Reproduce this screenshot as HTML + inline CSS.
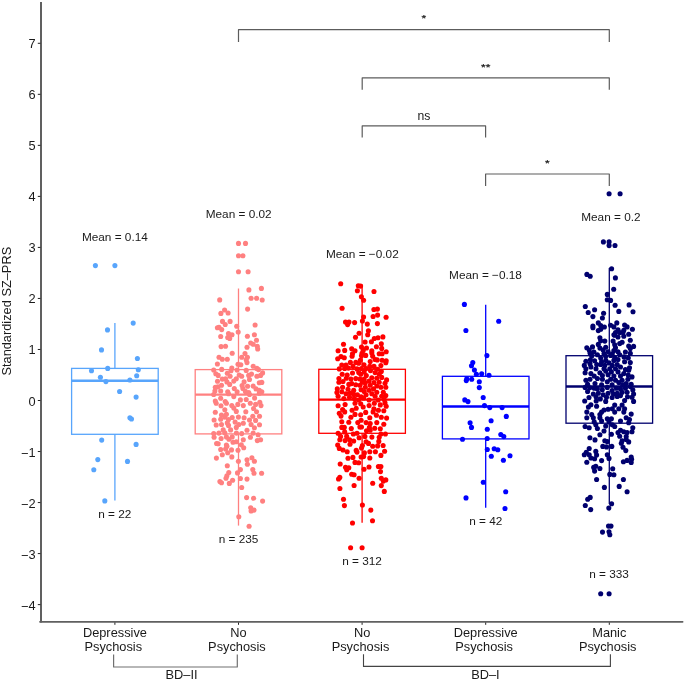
<!DOCTYPE html>
<html><head><meta charset="utf-8"><style>
html,body{margin:0;padding:0;background:#fff;width:685px;height:681px;overflow:hidden}
svg{display:block;will-change:transform}
text{font-family:"Liberation Sans", sans-serif}
</style></head><body>
<svg width="685" height="681" viewBox="0 0 685 681" font-family='"Liberation Sans", sans-serif' fill="#1a1a1a"><line x1="41" y1="2" x2="41" y2="622.6" stroke="#606060" stroke-width="2"/>
<line x1="40" y1="621.8" x2="682.6" y2="621.8" stroke="#606060" stroke-width="1.8" stroke-linecap="round"/>
<line x1="37.8" y1="604.62" x2="40.5" y2="604.62" stroke="#222" stroke-width="1"/>
<text x="35.6" y="609.62" text-anchor="end" font-size="12.8"><tspan dy="1.6">−</tspan><tspan dy="-1.6">4</tspan></text>
<line x1="37.8" y1="553.59" x2="40.5" y2="553.59" stroke="#222" stroke-width="1"/>
<text x="35.6" y="558.59" text-anchor="end" font-size="12.8"><tspan dy="1.6">−</tspan><tspan dy="-1.6">3</tspan></text>
<line x1="37.8" y1="502.56" x2="40.5" y2="502.56" stroke="#222" stroke-width="1"/>
<text x="35.6" y="507.56" text-anchor="end" font-size="12.8"><tspan dy="1.6">−</tspan><tspan dy="-1.6">2</tspan></text>
<line x1="37.8" y1="451.53" x2="40.5" y2="451.53" stroke="#222" stroke-width="1"/>
<text x="35.6" y="456.53" text-anchor="end" font-size="12.8"><tspan dy="1.6">−</tspan><tspan dy="-1.6">1</tspan></text>
<line x1="37.8" y1="400.50" x2="40.5" y2="400.50" stroke="#222" stroke-width="1"/>
<text x="35.6" y="405.50" text-anchor="end" font-size="12.8">0</text>
<line x1="37.8" y1="349.47" x2="40.5" y2="349.47" stroke="#222" stroke-width="1"/>
<text x="35.6" y="354.47" text-anchor="end" font-size="12.8">1</text>
<line x1="37.8" y1="298.44" x2="40.5" y2="298.44" stroke="#222" stroke-width="1"/>
<text x="35.6" y="303.44" text-anchor="end" font-size="12.8">2</text>
<line x1="37.8" y1="247.41" x2="40.5" y2="247.41" stroke="#222" stroke-width="1"/>
<text x="35.6" y="252.41" text-anchor="end" font-size="12.8">3</text>
<line x1="37.8" y1="196.38" x2="40.5" y2="196.38" stroke="#222" stroke-width="1"/>
<text x="35.6" y="201.38" text-anchor="end" font-size="12.8">4</text>
<line x1="37.8" y1="145.35" x2="40.5" y2="145.35" stroke="#222" stroke-width="1"/>
<text x="35.6" y="150.35" text-anchor="end" font-size="12.8">5</text>
<line x1="37.8" y1="94.32" x2="40.5" y2="94.32" stroke="#222" stroke-width="1"/>
<text x="35.6" y="99.32" text-anchor="end" font-size="12.8">6</text>
<line x1="37.8" y1="43.29" x2="40.5" y2="43.29" stroke="#222" stroke-width="1"/>
<text x="35.6" y="48.29" text-anchor="end" font-size="12.8">7</text>
<line x1="114.9" y1="622.5" x2="114.9" y2="624.8" stroke="#222" stroke-width="1"/>
<line x1="238.5" y1="622.5" x2="238.5" y2="624.8" stroke="#222" stroke-width="1"/>
<line x1="362.1" y1="622.5" x2="362.1" y2="624.8" stroke="#222" stroke-width="1"/>
<line x1="485.7" y1="622.5" x2="485.7" y2="624.8" stroke="#222" stroke-width="1"/>
<line x1="609.3" y1="622.5" x2="609.3" y2="624.8" stroke="#222" stroke-width="1"/>
<text x="114.9" y="636.6" text-anchor="middle" font-size="12.8">Depressive</text>
<text x="113.3" y="651.2" text-anchor="middle" font-size="12.8">Psychosis</text>
<text x="238.5" y="636.6" text-anchor="middle" font-size="12.8">No</text>
<text x="236.9" y="651.2" text-anchor="middle" font-size="12.8">Psychosis</text>
<text x="362.1" y="636.6" text-anchor="middle" font-size="12.8">No</text>
<text x="360.5" y="651.2" text-anchor="middle" font-size="12.8">Psychosis</text>
<text x="485.7" y="636.6" text-anchor="middle" font-size="12.8">Depressive</text>
<text x="484.1" y="651.2" text-anchor="middle" font-size="12.8">Psychosis</text>
<text x="609.3" y="636.6" text-anchor="middle" font-size="12.8">Manic</text>
<text x="607.7" y="651.2" text-anchor="middle" font-size="12.8">Psychosis</text>
<text transform="translate(10.6,311.2) rotate(-90)" text-anchor="middle" font-size="12.8">Standardized SZ–PRS</text>
<path d="M113.6 654.6 V667 H237.3 V654.6" fill="none" stroke="#707070" stroke-width="1.2" stroke-linejoin="round"/>
<path d="M363.5 654.2 V666.4 H610.4 V654.2" fill="none" stroke="#444" stroke-width="1.1"/>
<text x="181.5" y="678.8" text-anchor="middle" font-size="12.8">BD–II</text>
<text x="485.4" y="678.8" text-anchor="middle" font-size="12.8">BD–I</text>
<path d="M238.5 42.0 V29.7 H609.3 V42.0" fill="none" stroke="#5c5c5c" stroke-width="1.2" stroke-linejoin="round"/>
<text transform="translate(423.90,15.80) scale(1,0.8)" x="0" y="6.9" text-anchor="middle" font-size="12" stroke="#1a1a1a" stroke-width="0.3">*</text>
<path d="M362.2 89.7 V77.9 H609.3 V89.7" fill="none" stroke="#5c5c5c" stroke-width="1.2" stroke-linejoin="round"/>
<text transform="translate(485.75,64.00) scale(1,0.8)" x="0" y="6.9" text-anchor="middle" font-size="12" stroke="#1a1a1a" stroke-width="0.3">**</text>
<path d="M362.2 137.6 V125.9 H485.6 V137.6" fill="none" stroke="#5c5c5c" stroke-width="1.2" stroke-linejoin="round"/>
<text x="423.9" y="120.0" text-anchor="middle" font-size="12.2">ns</text>
<path d="M485.6 185.9 V174.0 H609.3 V185.9" fill="none" stroke="#5c5c5c" stroke-width="1.2" stroke-linejoin="round"/>
<text transform="translate(547.45,160.10) scale(1,0.8)" x="0" y="6.9" text-anchor="middle" font-size="12" stroke="#1a1a1a" stroke-width="0.3">*</text>
<g stroke="#58a5fc" fill="none">
<line x1="114.9" y1="323.1" x2="114.9" y2="368.4" stroke-width="1.3"/>
<line x1="114.9" y1="434.3" x2="114.9" y2="500.6" stroke-width="1.3"/>
<rect x="71.60" y="368.4" width="86.60" height="65.90" stroke-width="1.3"/>
<line x1="71.60" y1="380.7" x2="158.20" y2="380.7" stroke-width="2.4"/>
</g>
<g fill="#58a5fc">
<circle cx="95.4" cy="265.6" r="2.55"/>
<circle cx="114.9" cy="265.6" r="2.55"/>
<circle cx="133.2" cy="323.1" r="2.55"/>
<circle cx="107.5" cy="329.9" r="2.55"/>
<circle cx="101.5" cy="349.9" r="2.55"/>
<circle cx="137.4" cy="358.5" r="2.55"/>
<circle cx="91.5" cy="370.7" r="2.55"/>
<circle cx="107.7" cy="368.4" r="2.55"/>
<circle cx="138.3" cy="369.7" r="2.55"/>
<circle cx="100.4" cy="377.3" r="2.55"/>
<circle cx="136.7" cy="375.7" r="2.55"/>
<circle cx="105.9" cy="381.6" r="2.55"/>
<circle cx="129.9" cy="380.0" r="2.55"/>
<circle cx="119.6" cy="391.5" r="2.55"/>
<circle cx="136.1" cy="397.1" r="2.55"/>
<circle cx="129.9" cy="417.7" r="2.55"/>
<circle cx="131.5" cy="419.0" r="2.55"/>
<circle cx="101.7" cy="440.1" r="2.55"/>
<circle cx="136.1" cy="444.4" r="2.55"/>
<circle cx="97.8" cy="459.6" r="2.55"/>
<circle cx="127.5" cy="461.4" r="2.55"/>
<circle cx="93.8" cy="469.7" r="2.55"/>
<circle cx="104.8" cy="500.9" r="2.55"/>
</g>
<g stroke="#ff8080" fill="none">
<line x1="238.5" y1="288.5" x2="238.5" y2="369.6" stroke-width="1.3"/>
<line x1="238.5" y1="433.9" x2="238.5" y2="525.6" stroke-width="1.3"/>
<rect x="195.20" y="369.6" width="86.60" height="64.30" stroke-width="1.3"/>
<line x1="195.20" y1="394.6" x2="281.80" y2="394.6" stroke-width="2.4"/>
</g>
<g fill="#ff8080">
<circle cx="238.5" cy="243.4" r="2.55"/>
<circle cx="245.5" cy="243.4" r="2.55"/>
<circle cx="238.5" cy="255.7" r="2.55"/>
<circle cx="242.9" cy="255.7" r="2.55"/>
<circle cx="238.5" cy="271.8" r="2.55"/>
<circle cx="248.1" cy="271.8" r="2.55"/>
<circle cx="248.9" cy="289.9" r="2.55"/>
<circle cx="261.4" cy="288.4" r="2.55"/>
<circle cx="219.7" cy="299.9" r="2.55"/>
<circle cx="251.1" cy="298.2" r="2.55"/>
<circle cx="256.6" cy="298.2" r="2.55"/>
<circle cx="262.2" cy="300.0" r="2.55"/>
<circle cx="247.6" cy="309.1" r="2.55"/>
<circle cx="224.6" cy="310.0" r="2.55"/>
<circle cx="220.9" cy="313.4" r="2.55"/>
<circle cx="228.1" cy="313.0" r="2.55"/>
<circle cx="222.5" cy="321.4" r="2.55"/>
<circle cx="230.1" cy="321.4" r="2.55"/>
<circle cx="225.2" cy="324.5" r="2.55"/>
<circle cx="255.1" cy="325.0" r="2.55"/>
<circle cx="217.4" cy="327.7" r="2.55"/>
<circle cx="219.0" cy="327.2" r="2.55"/>
<circle cx="221.7" cy="329.6" r="2.55"/>
<circle cx="236.7" cy="326.3" r="2.55"/>
<circle cx="238.2" cy="332.0" r="2.55"/>
<circle cx="228.5" cy="333.6" r="2.55"/>
<circle cx="232.0" cy="334.8" r="2.55"/>
<circle cx="227.7" cy="337.5" r="2.55"/>
<circle cx="229.7" cy="338.5" r="2.55"/>
<circle cx="220.7" cy="336.5" r="2.55"/>
<circle cx="247.4" cy="336.2" r="2.55"/>
<circle cx="254.4" cy="334.8" r="2.55"/>
<circle cx="256.5" cy="340.3" r="2.55"/>
<circle cx="250.7" cy="343.0" r="2.55"/>
<circle cx="253.2" cy="344.3" r="2.55"/>
<circle cx="221.1" cy="346.6" r="2.55"/>
<circle cx="225.5" cy="346.2" r="2.55"/>
<circle cx="247.0" cy="347.2" r="2.55"/>
<circle cx="257.3" cy="346.2" r="2.55"/>
<circle cx="257.7" cy="349.0" r="2.55"/>
<circle cx="232.2" cy="353.2" r="2.55"/>
<circle cx="245.0" cy="353.6" r="2.55"/>
<circle cx="219.0" cy="357.3" r="2.55"/>
<circle cx="222.3" cy="359.3" r="2.55"/>
<circle cx="227.3" cy="359.3" r="2.55"/>
<circle cx="241.7" cy="357.3" r="2.55"/>
<circle cx="247.4" cy="357.3" r="2.55"/>
<circle cx="246.2" cy="359.7" r="2.55"/>
<circle cx="247.0" cy="362.6" r="2.55"/>
<circle cx="217.4" cy="364.0" r="2.55"/>
<circle cx="238.0" cy="364.3" r="2.55"/>
<circle cx="240.8" cy="364.7" r="2.55"/>
<circle cx="253.2" cy="366.2" r="2.55"/>
<circle cx="231.8" cy="368.0" r="2.55"/>
<circle cx="256.9" cy="368.4" r="2.55"/>
<circle cx="213.7" cy="370.0" r="2.55"/>
<circle cx="231.0" cy="370.8" r="2.55"/>
<circle cx="246.2" cy="370.4" r="2.55"/>
<circle cx="258.5" cy="369.6" r="2.55"/>
<circle cx="227.3" cy="373.3" r="2.55"/>
<circle cx="262.6" cy="372.9" r="2.55"/>
<circle cx="215.8" cy="373.7" r="2.55"/>
<circle cx="218.2" cy="375.4" r="2.55"/>
<circle cx="230.1" cy="376.2" r="2.55"/>
<circle cx="239.2" cy="375.0" r="2.55"/>
<circle cx="241.7" cy="376.2" r="2.55"/>
<circle cx="248.7" cy="375.4" r="2.55"/>
<circle cx="251.5" cy="374.1" r="2.55"/>
<circle cx="256.9" cy="376.2" r="2.55"/>
<circle cx="260.6" cy="375.4" r="2.55"/>
<circle cx="222.3" cy="379.1" r="2.55"/>
<circle cx="225.6" cy="378.7" r="2.55"/>
<circle cx="236.3" cy="378.7" r="2.55"/>
<circle cx="233.8" cy="381.1" r="2.55"/>
<circle cx="249.5" cy="379.5" r="2.55"/>
<circle cx="226.9" cy="381.9" r="2.55"/>
<circle cx="244.1" cy="381.9" r="2.55"/>
<circle cx="259.3" cy="382.8" r="2.55"/>
<circle cx="261.8" cy="382.4" r="2.55"/>
<circle cx="221.5" cy="385.2" r="2.55"/>
<circle cx="229.7" cy="384.4" r="2.55"/>
<circle cx="242.1" cy="385.6" r="2.55"/>
<circle cx="253.2" cy="386.1" r="2.55"/>
<circle cx="215.3" cy="387.3" r="2.55"/>
<circle cx="217.8" cy="386.9" r="2.55"/>
<circle cx="234.3" cy="388.5" r="2.55"/>
<circle cx="242.9" cy="388.5" r="2.55"/>
<circle cx="256.0" cy="388.9" r="2.55"/>
<circle cx="259.3" cy="390.2" r="2.55"/>
<circle cx="220.7" cy="391.0" r="2.55"/>
<circle cx="214.9" cy="391.0" r="2.55"/>
<circle cx="227.7" cy="391.8" r="2.55"/>
<circle cx="237.1" cy="391.8" r="2.55"/>
<circle cx="245.4" cy="391.4" r="2.55"/>
<circle cx="248.7" cy="392.6" r="2.55"/>
<circle cx="261.8" cy="391.8" r="2.55"/>
<circle cx="213.7" cy="394.5" r="2.55"/>
<circle cx="228.5" cy="393.7" r="2.55"/>
<circle cx="233.8" cy="396.6" r="2.55"/>
<circle cx="249.5" cy="394.5" r="2.55"/>
<circle cx="259.3" cy="393.3" r="2.55"/>
<circle cx="215.3" cy="401.1" r="2.55"/>
<circle cx="216.2" cy="403.2" r="2.55"/>
<circle cx="220.7" cy="398.2" r="2.55"/>
<circle cx="225.2" cy="401.5" r="2.55"/>
<circle cx="226.4" cy="403.2" r="2.55"/>
<circle cx="240.4" cy="399.9" r="2.55"/>
<circle cx="250.3" cy="403.2" r="2.55"/>
<circle cx="259.8" cy="402.3" r="2.55"/>
<circle cx="261.0" cy="405.6" r="2.55"/>
<circle cx="255.6" cy="404.4" r="2.55"/>
<circle cx="243.3" cy="405.6" r="2.55"/>
<circle cx="231.8" cy="405.6" r="2.55"/>
<circle cx="233.8" cy="408.1" r="2.55"/>
<circle cx="236.3" cy="411.4" r="2.55"/>
<circle cx="253.6" cy="408.5" r="2.55"/>
<circle cx="256.5" cy="411.8" r="2.55"/>
<circle cx="224.8" cy="409.7" r="2.55"/>
<circle cx="215.3" cy="412.2" r="2.55"/>
<circle cx="245.8" cy="411.8" r="2.55"/>
<circle cx="226.4" cy="414.3" r="2.55"/>
<circle cx="221.5" cy="415.1" r="2.55"/>
<circle cx="252.8" cy="416.3" r="2.55"/>
<circle cx="238.4" cy="417.1" r="2.55"/>
<circle cx="232.2" cy="417.5" r="2.55"/>
<circle cx="224.8" cy="417.1" r="2.55"/>
<circle cx="214.1" cy="420.0" r="2.55"/>
<circle cx="220.7" cy="419.2" r="2.55"/>
<circle cx="228.5" cy="419.6" r="2.55"/>
<circle cx="249.5" cy="420.0" r="2.55"/>
<circle cx="255.6" cy="420.4" r="2.55"/>
<circle cx="235.1" cy="422.1" r="2.55"/>
<circle cx="243.3" cy="423.3" r="2.55"/>
<circle cx="238.8" cy="424.5" r="2.55"/>
<circle cx="227.3" cy="422.9" r="2.55"/>
<circle cx="216.2" cy="425.0" r="2.55"/>
<circle cx="221.5" cy="424.5" r="2.55"/>
<circle cx="228.5" cy="425.4" r="2.55"/>
<circle cx="251.1" cy="424.5" r="2.55"/>
<circle cx="236.3" cy="427.4" r="2.55"/>
<circle cx="254.4" cy="427.8" r="2.55"/>
<circle cx="223.2" cy="429.9" r="2.55"/>
<circle cx="230.6" cy="429.9" r="2.55"/>
<circle cx="247.0" cy="430.3" r="2.55"/>
<circle cx="213.7" cy="433.6" r="2.55"/>
<circle cx="224.8" cy="432.8" r="2.55"/>
<circle cx="241.7" cy="433.6" r="2.55"/>
<circle cx="258.1" cy="434.8" r="2.55"/>
<circle cx="214.1" cy="437.3" r="2.55"/>
<circle cx="221.1" cy="438.5" r="2.55"/>
<circle cx="226.4" cy="436.9" r="2.55"/>
<circle cx="232.2" cy="436.9" r="2.55"/>
<circle cx="228.9" cy="439.3" r="2.55"/>
<circle cx="243.3" cy="439.8" r="2.55"/>
<circle cx="257.3" cy="440.6" r="2.55"/>
<circle cx="260.6" cy="439.8" r="2.55"/>
<circle cx="216.6" cy="443.5" r="2.55"/>
<circle cx="233.0" cy="442.2" r="2.55"/>
<circle cx="236.3" cy="441.8" r="2.55"/>
<circle cx="226.4" cy="445.1" r="2.55"/>
<circle cx="241.3" cy="444.7" r="2.55"/>
<circle cx="218.2" cy="443.7" r="2.55"/>
<circle cx="226.9" cy="446.2" r="2.55"/>
<circle cx="243.7" cy="447.8" r="2.55"/>
<circle cx="220.7" cy="449.5" r="2.55"/>
<circle cx="225.6" cy="449.0" r="2.55"/>
<circle cx="231.5" cy="449.9" r="2.55"/>
<circle cx="238.0" cy="450.3" r="2.55"/>
<circle cx="227.7" cy="452.7" r="2.55"/>
<circle cx="222.3" cy="454.8" r="2.55"/>
<circle cx="231.8" cy="456.9" r="2.55"/>
<circle cx="216.4" cy="458.1" r="2.55"/>
<circle cx="238.4" cy="461.2" r="2.55"/>
<circle cx="247.0" cy="459.7" r="2.55"/>
<circle cx="251.9" cy="457.7" r="2.55"/>
<circle cx="254.4" cy="461.2" r="2.55"/>
<circle cx="247.4" cy="464.3" r="2.55"/>
<circle cx="227.3" cy="465.7" r="2.55"/>
<circle cx="240.4" cy="469.6" r="2.55"/>
<circle cx="252.8" cy="469.6" r="2.55"/>
<circle cx="228.8" cy="472.5" r="2.55"/>
<circle cx="237.5" cy="472.9" r="2.55"/>
<circle cx="254.0" cy="473.3" r="2.55"/>
<circle cx="261.6" cy="473.3" r="2.55"/>
<circle cx="226.9" cy="475.8" r="2.55"/>
<circle cx="226.0" cy="478.2" r="2.55"/>
<circle cx="240.4" cy="478.5" r="2.55"/>
<circle cx="247.0" cy="479.1" r="2.55"/>
<circle cx="232.6" cy="480.3" r="2.55"/>
<circle cx="219.9" cy="481.5" r="2.55"/>
<circle cx="221.5" cy="482.8" r="2.55"/>
<circle cx="229.3" cy="483.4" r="2.55"/>
<circle cx="241.7" cy="487.5" r="2.55"/>
<circle cx="246.6" cy="497.6" r="2.55"/>
<circle cx="253.6" cy="498.2" r="2.55"/>
<circle cx="262.6" cy="501.1" r="2.55"/>
<circle cx="250.7" cy="507.7" r="2.55"/>
<circle cx="251.1" cy="511.0" r="2.55"/>
<circle cx="254.0" cy="510.1" r="2.55"/>
<circle cx="238.8" cy="516.7" r="2.55"/>
<circle cx="249.1" cy="526.2" r="2.55"/>
<circle cx="250.4" cy="437.3" r="2.55"/>
<circle cx="221.7" cy="369.4" r="2.55"/>
<circle cx="254.6" cy="398.1" r="2.55"/>
<circle cx="259.5" cy="424.7" r="2.55"/>
<circle cx="244.1" cy="417.7" r="2.55"/>
<circle cx="246.2" cy="399.5" r="2.55"/>
<circle cx="221.0" cy="405.8" r="2.55"/>
<circle cx="259.5" cy="416.3" r="2.55"/>
<circle cx="247.6" cy="386.2" r="2.55"/>
<circle cx="236.4" cy="433.1" r="2.55"/>
<circle cx="237.1" cy="370.1" r="2.55"/>
<circle cx="237.8" cy="404.4" r="2.55"/>
<circle cx="217.5" cy="381.3" r="2.55"/>
<circle cx="218.9" cy="433.1" r="2.55"/>
<circle cx="253.2" cy="433.1" r="2.55"/>
</g>
<g stroke="#ff0000" fill="none">
<line x1="362.1" y1="284.4" x2="362.1" y2="369.3" stroke-width="1.3"/>
<line x1="362.1" y1="433.3" x2="362.1" y2="522.7" stroke-width="1.3"/>
<rect x="318.80" y="369.3" width="86.60" height="64.00" stroke-width="1.3"/>
<line x1="318.80" y1="399.6" x2="405.40" y2="399.6" stroke-width="2.4"/>
</g>
<g fill="#ff0000">
<circle cx="340.7" cy="283.8" r="2.55"/>
<circle cx="358.3" cy="285.8" r="2.55"/>
<circle cx="360.6" cy="286.1" r="2.55"/>
<circle cx="357.4" cy="290.7" r="2.55"/>
<circle cx="374.0" cy="291.5" r="2.55"/>
<circle cx="361.4" cy="296.7" r="2.55"/>
<circle cx="363.6" cy="300.3" r="2.55"/>
<circle cx="342.1" cy="308.2" r="2.55"/>
<circle cx="373.9" cy="309.5" r="2.55"/>
<circle cx="377.4" cy="309.1" r="2.55"/>
<circle cx="373.1" cy="316.5" r="2.55"/>
<circle cx="377.6" cy="315.1" r="2.55"/>
<circle cx="363.6" cy="317.0" r="2.55"/>
<circle cx="386.1" cy="317.3" r="2.55"/>
<circle cx="362.4" cy="321.0" r="2.55"/>
<circle cx="345.5" cy="322.0" r="2.55"/>
<circle cx="349.0" cy="322.0" r="2.55"/>
<circle cx="354.6" cy="322.6" r="2.55"/>
<circle cx="347.6" cy="324.6" r="2.55"/>
<circle cx="367.3" cy="324.1" r="2.55"/>
<circle cx="377.4" cy="323.6" r="2.55"/>
<circle cx="368.4" cy="330.7" r="2.55"/>
<circle cx="367.7" cy="334.8" r="2.55"/>
<circle cx="359.1" cy="333.2" r="2.55"/>
<circle cx="355.5" cy="337.3" r="2.55"/>
<circle cx="382.9" cy="336.9" r="2.55"/>
<circle cx="378.0" cy="337.7" r="2.55"/>
<circle cx="374.3" cy="338.5" r="2.55"/>
<circle cx="371.4" cy="341.8" r="2.55"/>
<circle cx="365.1" cy="342.0" r="2.55"/>
<circle cx="343.5" cy="344.3" r="2.55"/>
<circle cx="381.3" cy="343.8" r="2.55"/>
<circle cx="361.5" cy="347.1" r="2.55"/>
<circle cx="366.5" cy="348.0" r="2.55"/>
<circle cx="376.4" cy="346.7" r="2.55"/>
<circle cx="381.7" cy="348.4" r="2.55"/>
<circle cx="351.7" cy="348.8" r="2.55"/>
<circle cx="338.1" cy="350.8" r="2.55"/>
<circle cx="344.7" cy="350.4" r="2.55"/>
<circle cx="355.0" cy="350.8" r="2.55"/>
<circle cx="363.2" cy="350.4" r="2.55"/>
<circle cx="371.8" cy="350.8" r="2.55"/>
<circle cx="386.2" cy="351.7" r="2.55"/>
<circle cx="352.5" cy="353.7" r="2.55"/>
<circle cx="362.0" cy="353.3" r="2.55"/>
<circle cx="371.8" cy="352.9" r="2.55"/>
<circle cx="379.2" cy="353.7" r="2.55"/>
<circle cx="382.1" cy="353.7" r="2.55"/>
<circle cx="341.0" cy="356.6" r="2.55"/>
<circle cx="337.7" cy="358.7" r="2.55"/>
<circle cx="344.3" cy="357.8" r="2.55"/>
<circle cx="352.1" cy="356.2" r="2.55"/>
<circle cx="361.5" cy="355.8" r="2.55"/>
<circle cx="365.7" cy="355.4" r="2.55"/>
<circle cx="372.7" cy="356.2" r="2.55"/>
<circle cx="375.1" cy="359.5" r="2.55"/>
<circle cx="377.2" cy="359.9" r="2.55"/>
<circle cx="382.1" cy="360.3" r="2.55"/>
<circle cx="386.2" cy="360.7" r="2.55"/>
<circle cx="360.3" cy="360.3" r="2.55"/>
<circle cx="370.2" cy="361.5" r="2.55"/>
<circle cx="350.4" cy="362.4" r="2.55"/>
<circle cx="355.8" cy="362.4" r="2.55"/>
<circle cx="358.7" cy="363.2" r="2.55"/>
<circle cx="385.8" cy="362.8" r="2.55"/>
<circle cx="364.0" cy="364.8" r="2.55"/>
<circle cx="380.9" cy="365.6" r="2.55"/>
<circle cx="339.3" cy="368.9" r="2.55"/>
<circle cx="344.7" cy="368.5" r="2.55"/>
<circle cx="348.4" cy="368.1" r="2.55"/>
<circle cx="357.0" cy="368.9" r="2.55"/>
<circle cx="366.1" cy="368.5" r="2.55"/>
<circle cx="381.3" cy="371.4" r="2.55"/>
<circle cx="352.5" cy="373.0" r="2.55"/>
<circle cx="358.7" cy="372.6" r="2.55"/>
<circle cx="360.7" cy="374.3" r="2.55"/>
<circle cx="342.2" cy="374.3" r="2.55"/>
<circle cx="347.2" cy="375.1" r="2.55"/>
<circle cx="375.1" cy="372.6" r="2.55"/>
<circle cx="379.2" cy="374.3" r="2.55"/>
<circle cx="338.9" cy="378.6" r="2.55"/>
<circle cx="346.3" cy="378.2" r="2.55"/>
<circle cx="355.8" cy="378.6" r="2.55"/>
<circle cx="371.8" cy="377.8" r="2.55"/>
<circle cx="381.7" cy="377.4" r="2.55"/>
<circle cx="386.6" cy="379.9" r="2.55"/>
<circle cx="338.9" cy="382.3" r="2.55"/>
<circle cx="343.0" cy="381.5" r="2.55"/>
<circle cx="348.8" cy="384.4" r="2.55"/>
<circle cx="351.7" cy="383.6" r="2.55"/>
<circle cx="355.8" cy="384.8" r="2.55"/>
<circle cx="362.4" cy="382.3" r="2.55"/>
<circle cx="365.3" cy="382.7" r="2.55"/>
<circle cx="370.2" cy="385.2" r="2.55"/>
<circle cx="379.2" cy="382.3" r="2.55"/>
<circle cx="385.0" cy="383.2" r="2.55"/>
<circle cx="337.3" cy="388.9" r="2.55"/>
<circle cx="342.6" cy="387.3" r="2.55"/>
<circle cx="348.0" cy="389.3" r="2.55"/>
<circle cx="361.1" cy="389.7" r="2.55"/>
<circle cx="365.3" cy="387.3" r="2.55"/>
<circle cx="373.5" cy="388.9" r="2.55"/>
<circle cx="380.9" cy="387.3" r="2.55"/>
<circle cx="385.8" cy="387.3" r="2.55"/>
<circle cx="336.9" cy="392.6" r="2.55"/>
<circle cx="341.8" cy="391.8" r="2.55"/>
<circle cx="376.8" cy="392.2" r="2.55"/>
<circle cx="383.3" cy="392.2" r="2.55"/>
<circle cx="357.4" cy="394.7" r="2.55"/>
<circle cx="366.1" cy="394.7" r="2.55"/>
<circle cx="371.8" cy="393.8" r="2.55"/>
<circle cx="338.1" cy="396.3" r="2.55"/>
<circle cx="361.1" cy="396.7" r="2.55"/>
<circle cx="375.1" cy="396.3" r="2.55"/>
<circle cx="381.7" cy="396.3" r="2.55"/>
<circle cx="385.8" cy="395.5" r="2.55"/>
<circle cx="363.6" cy="398.0" r="2.55"/>
<circle cx="384.2" cy="399.6" r="2.55"/>
<circle cx="338.1" cy="405.8" r="2.55"/>
<circle cx="345.1" cy="404.5" r="2.55"/>
<circle cx="355.0" cy="403.3" r="2.55"/>
<circle cx="360.7" cy="403.7" r="2.55"/>
<circle cx="374.3" cy="403.3" r="2.55"/>
<circle cx="385.0" cy="402.9" r="2.55"/>
<circle cx="386.2" cy="406.2" r="2.55"/>
<circle cx="363.2" cy="407.0" r="2.55"/>
<circle cx="342.6" cy="409.5" r="2.55"/>
<circle cx="356.2" cy="408.2" r="2.55"/>
<circle cx="373.9" cy="408.7" r="2.55"/>
<circle cx="378.4" cy="410.3" r="2.55"/>
<circle cx="383.8" cy="410.7" r="2.55"/>
<circle cx="352.1" cy="410.3" r="2.55"/>
<circle cx="339.3" cy="413.2" r="2.55"/>
<circle cx="344.7" cy="411.9" r="2.55"/>
<circle cx="365.7" cy="412.4" r="2.55"/>
<circle cx="373.1" cy="411.9" r="2.55"/>
<circle cx="355.0" cy="414.4" r="2.55"/>
<circle cx="341.0" cy="416.1" r="2.55"/>
<circle cx="350.9" cy="417.3" r="2.55"/>
<circle cx="376.4" cy="415.2" r="2.55"/>
<circle cx="381.3" cy="417.3" r="2.55"/>
<circle cx="386.6" cy="418.1" r="2.55"/>
<circle cx="369.8" cy="417.7" r="2.55"/>
<circle cx="361.1" cy="420.2" r="2.55"/>
<circle cx="348.8" cy="422.2" r="2.55"/>
<circle cx="357.8" cy="422.6" r="2.55"/>
<circle cx="366.1" cy="422.6" r="2.55"/>
<circle cx="376.8" cy="422.6" r="2.55"/>
<circle cx="383.8" cy="424.3" r="2.55"/>
<circle cx="370.2" cy="423.5" r="2.55"/>
<circle cx="341.8" cy="427.4" r="2.55"/>
<circle cx="344.3" cy="427.4" r="2.55"/>
<circle cx="351.3" cy="428.6" r="2.55"/>
<circle cx="359.9" cy="427.0" r="2.55"/>
<circle cx="361.5" cy="427.0" r="2.55"/>
<circle cx="369.4" cy="427.4" r="2.55"/>
<circle cx="366.5" cy="430.7" r="2.55"/>
<circle cx="370.2" cy="430.3" r="2.55"/>
<circle cx="374.7" cy="428.2" r="2.55"/>
<circle cx="338.1" cy="433.2" r="2.55"/>
<circle cx="344.7" cy="431.9" r="2.55"/>
<circle cx="353.3" cy="434.0" r="2.55"/>
<circle cx="357.0" cy="433.2" r="2.55"/>
<circle cx="380.9" cy="434.0" r="2.55"/>
<circle cx="385.4" cy="434.0" r="2.55"/>
<circle cx="340.6" cy="436.4" r="2.55"/>
<circle cx="346.7" cy="436.4" r="2.55"/>
<circle cx="359.1" cy="437.7" r="2.55"/>
<circle cx="379.2" cy="437.3" r="2.55"/>
<circle cx="339.8" cy="439.7" r="2.55"/>
<circle cx="345.1" cy="440.6" r="2.55"/>
<circle cx="349.6" cy="439.7" r="2.55"/>
<circle cx="353.7" cy="441.0" r="2.55"/>
<circle cx="366.1" cy="441.8" r="2.55"/>
<circle cx="378.8" cy="441.4" r="2.55"/>
<circle cx="350.0" cy="444.3" r="2.55"/>
<circle cx="368.5" cy="443.4" r="2.55"/>
<circle cx="337.7" cy="445.1" r="2.55"/>
<circle cx="362.4" cy="445.5" r="2.55"/>
<circle cx="372.7" cy="446.3" r="2.55"/>
<circle cx="377.6" cy="445.9" r="2.55"/>
<circle cx="339.3" cy="448.4" r="2.55"/>
<circle cx="361.5" cy="448.0" r="2.55"/>
<circle cx="343.0" cy="450.0" r="2.55"/>
<circle cx="356.2" cy="450.4" r="2.55"/>
<circle cx="347.2" cy="451.7" r="2.55"/>
<circle cx="357.0" cy="452.1" r="2.55"/>
<circle cx="384.6" cy="451.3" r="2.55"/>
<circle cx="364.4" cy="452.9" r="2.55"/>
<circle cx="380.9" cy="455.4" r="2.55"/>
<circle cx="361.1" cy="457.0" r="2.55"/>
<circle cx="363.6" cy="456.6" r="2.55"/>
<circle cx="348.0" cy="458.2" r="2.55"/>
<circle cx="352.9" cy="457.4" r="2.55"/>
<circle cx="369.8" cy="458.0" r="2.55"/>
<circle cx="355.0" cy="462.4" r="2.55"/>
<circle cx="358.7" cy="462.8" r="2.55"/>
<circle cx="340.2" cy="464.0" r="2.55"/>
<circle cx="378.4" cy="466.5" r="2.55"/>
<circle cx="380.9" cy="466.5" r="2.55"/>
<circle cx="369.0" cy="467.0" r="2.55"/>
<circle cx="345.5" cy="467.3" r="2.55"/>
<circle cx="348.8" cy="467.7" r="2.55"/>
<circle cx="346.7" cy="469.8" r="2.55"/>
<circle cx="364.0" cy="469.3" r="2.55"/>
<circle cx="380.5" cy="471.6" r="2.55"/>
<circle cx="351.7" cy="474.3" r="2.55"/>
<circle cx="354.1" cy="474.7" r="2.55"/>
<circle cx="338.5" cy="479.0" r="2.55"/>
<circle cx="339.8" cy="477.4" r="2.55"/>
<circle cx="359.1" cy="478.2" r="2.55"/>
<circle cx="381.3" cy="478.2" r="2.55"/>
<circle cx="385.8" cy="479.9" r="2.55"/>
<circle cx="383.3" cy="481.1" r="2.55"/>
<circle cx="372.7" cy="483.2" r="2.55"/>
<circle cx="381.3" cy="485.6" r="2.55"/>
<circle cx="354.1" cy="485.5" r="2.55"/>
<circle cx="339.9" cy="488.5" r="2.55"/>
<circle cx="384.3" cy="491.4" r="2.55"/>
<circle cx="343.5" cy="499.2" r="2.55"/>
<circle cx="344.4" cy="505.6" r="2.55"/>
<circle cx="362.4" cy="505.0" r="2.55"/>
<circle cx="370.8" cy="510.1" r="2.55"/>
<circle cx="372.5" cy="520.8" r="2.55"/>
<circle cx="352.5" cy="523.0" r="2.55"/>
<circle cx="350.6" cy="547.7" r="2.55"/>
<circle cx="362.1" cy="547.7" r="2.55"/>
<circle cx="349.5" cy="397.2" r="2.55"/>
<circle cx="374.0" cy="366.4" r="2.55"/>
<circle cx="369.1" cy="400.0" r="2.55"/>
<circle cx="353.7" cy="390.2" r="2.55"/>
<circle cx="366.3" cy="375.5" r="2.55"/>
<circle cx="343.9" cy="398.6" r="2.55"/>
<circle cx="370.5" cy="370.6" r="2.55"/>
<circle cx="350.9" cy="379.0" r="2.55"/>
<circle cx="378.2" cy="400.0" r="2.55"/>
<circle cx="374.0" cy="382.5" r="2.55"/>
<circle cx="353.0" cy="366.4" r="2.55"/>
<circle cx="354.4" cy="398.6" r="2.55"/>
<circle cx="341.8" cy="365.0" r="2.55"/>
<circle cx="346.0" cy="393.7" r="2.55"/>
<circle cx="376.8" cy="378.3" r="2.55"/>
<circle cx="369.1" cy="390.2" r="2.55"/>
<circle cx="361.4" cy="368.5" r="2.55"/>
<circle cx="350.2" cy="393.0" r="2.55"/>
<circle cx="369.8" cy="366.4" r="2.55"/>
<circle cx="376.8" cy="386.0" r="2.55"/>
<circle cx="358.6" cy="400.0" r="2.55"/>
<circle cx="377.5" cy="369.2" r="2.55"/>
<circle cx="369.1" cy="381.1" r="2.55"/>
<circle cx="360.0" cy="379.0" r="2.55"/>
<circle cx="364.2" cy="372.0" r="2.55"/>
<circle cx="360.0" cy="385.3" r="2.55"/>
<circle cx="353.7" cy="394.4" r="2.55"/>
<circle cx="364.2" cy="379.0" r="2.55"/>
<circle cx="346.0" cy="365.0" r="2.55"/>
<circle cx="364.2" cy="391.6" r="2.55"/>
<circle cx="371.9" cy="437.1" r="2.55"/>
<circle cx="375.4" cy="451.8" r="2.55"/>
<circle cx="341.8" cy="421.7" r="2.55"/>
<circle cx="383.1" cy="445.5" r="2.55"/>
<circle cx="369.8" cy="451.8" r="2.55"/>
<circle cx="364.9" cy="436.4" r="2.55"/>
<circle cx="369.1" cy="405.6" r="2.55"/>
<circle cx="360.7" cy="414.7" r="2.55"/>
<circle cx="380.3" cy="428.7" r="2.55"/>
<circle cx="380.3" cy="404.9" r="2.55"/>
</g>
<g stroke="#0000ff" fill="none">
<line x1="485.7" y1="304.7" x2="485.7" y2="376.3" stroke-width="1.3"/>
<line x1="485.7" y1="438.9" x2="485.7" y2="507.8" stroke-width="1.3"/>
<rect x="442.40" y="376.3" width="86.60" height="62.60" stroke-width="1.3"/>
<line x1="442.40" y1="406.5" x2="529.00" y2="406.5" stroke-width="2.4"/>
</g>
<g fill="#0000ff">
<circle cx="464.4" cy="304.4" r="2.55"/>
<circle cx="498.7" cy="321.2" r="2.55"/>
<circle cx="465.9" cy="330.5" r="2.55"/>
<circle cx="486.9" cy="355.6" r="2.55"/>
<circle cx="472.8" cy="362.5" r="2.55"/>
<circle cx="471.5" cy="365.8" r="2.55"/>
<circle cx="474.4" cy="370.1" r="2.55"/>
<circle cx="476.4" cy="374.2" r="2.55"/>
<circle cx="481.7" cy="373.8" r="2.55"/>
<circle cx="489.0" cy="375.3" r="2.55"/>
<circle cx="466.8" cy="378.7" r="2.55"/>
<circle cx="466.3" cy="380.6" r="2.55"/>
<circle cx="471.7" cy="379.3" r="2.55"/>
<circle cx="479.3" cy="381.8" r="2.55"/>
<circle cx="479.3" cy="387.6" r="2.55"/>
<circle cx="483.2" cy="397.5" r="2.55"/>
<circle cx="464.8" cy="399.9" r="2.55"/>
<circle cx="468.0" cy="401.6" r="2.55"/>
<circle cx="484.5" cy="405.6" r="2.55"/>
<circle cx="489.8" cy="407.6" r="2.55"/>
<circle cx="502.1" cy="407.6" r="2.55"/>
<circle cx="506.3" cy="416.4" r="2.55"/>
<circle cx="491.1" cy="420.8" r="2.55"/>
<circle cx="470.1" cy="422.8" r="2.55"/>
<circle cx="471.5" cy="427.4" r="2.55"/>
<circle cx="487.3" cy="429.2" r="2.55"/>
<circle cx="500.8" cy="434.5" r="2.55"/>
<circle cx="503.8" cy="436.6" r="2.55"/>
<circle cx="462.5" cy="439.2" r="2.55"/>
<circle cx="487.2" cy="438.5" r="2.55"/>
<circle cx="487.3" cy="449.5" r="2.55"/>
<circle cx="494.2" cy="448.8" r="2.55"/>
<circle cx="497.8" cy="449.7" r="2.55"/>
<circle cx="491.3" cy="456.3" r="2.55"/>
<circle cx="510.0" cy="455.7" r="2.55"/>
<circle cx="503.4" cy="460.3" r="2.55"/>
<circle cx="483.3" cy="482.2" r="2.55"/>
<circle cx="466.0" cy="497.9" r="2.55"/>
<circle cx="505.7" cy="491.7" r="2.55"/>
<circle cx="505.0" cy="508.5" r="2.55"/>
</g>
<g stroke="#00006e" fill="none">
<line x1="609.3" y1="268.0" x2="609.3" y2="355.7" stroke-width="1.3"/>
<line x1="609.3" y1="423.2" x2="609.3" y2="503.9" stroke-width="1.3"/>
<rect x="566.00" y="355.7" width="86.60" height="67.50" stroke-width="1.3"/>
<line x1="566.00" y1="386.5" x2="652.60" y2="386.5" stroke-width="2.4"/>
</g>
<g fill="#00006e">
<circle cx="609.1" cy="193.7" r="2.55"/>
<circle cx="620.1" cy="193.7" r="2.55"/>
<circle cx="603.4" cy="241.9" r="2.55"/>
<circle cx="609.1" cy="241.9" r="2.55"/>
<circle cx="609.1" cy="245.6" r="2.55"/>
<circle cx="615.0" cy="245.5" r="2.55"/>
<circle cx="611.6" cy="268.7" r="2.55"/>
<circle cx="586.9" cy="274.4" r="2.55"/>
<circle cx="590.2" cy="276.2" r="2.55"/>
<circle cx="615.4" cy="277.9" r="2.55"/>
<circle cx="613.7" cy="289.2" r="2.55"/>
<circle cx="607.3" cy="294.4" r="2.55"/>
<circle cx="607.3" cy="299.7" r="2.55"/>
<circle cx="610.6" cy="300.4" r="2.55"/>
<circle cx="585.3" cy="306.5" r="2.55"/>
<circle cx="615.1" cy="305.3" r="2.55"/>
<circle cx="629.1" cy="304.9" r="2.55"/>
<circle cx="594.6" cy="309.8" r="2.55"/>
<circle cx="588.2" cy="312.5" r="2.55"/>
<circle cx="618.8" cy="311.4" r="2.55"/>
<circle cx="633.0" cy="311.7" r="2.55"/>
<circle cx="603.6" cy="313.3" r="2.55"/>
<circle cx="592.9" cy="316.6" r="2.55"/>
<circle cx="602.4" cy="318.0" r="2.55"/>
<circle cx="598.3" cy="322.9" r="2.55"/>
<circle cx="616.8" cy="322.9" r="2.55"/>
<circle cx="592.9" cy="326.1" r="2.55"/>
<circle cx="592.9" cy="327.7" r="2.55"/>
<circle cx="600.7" cy="325.6" r="2.55"/>
<circle cx="604.4" cy="327.0" r="2.55"/>
<circle cx="610.6" cy="325.2" r="2.55"/>
<circle cx="613.9" cy="326.9" r="2.55"/>
<circle cx="624.6" cy="325.1" r="2.55"/>
<circle cx="627.1" cy="326.9" r="2.55"/>
<circle cx="632.4" cy="329.3" r="2.55"/>
<circle cx="598.3" cy="330.6" r="2.55"/>
<circle cx="600.7" cy="329.3" r="2.55"/>
<circle cx="618.0" cy="329.8" r="2.55"/>
<circle cx="623.8" cy="330.2" r="2.55"/>
<circle cx="615.5" cy="332.6" r="2.55"/>
<circle cx="619.7" cy="332.6" r="2.55"/>
<circle cx="623.0" cy="332.6" r="2.55"/>
<circle cx="628.7" cy="334.3" r="2.55"/>
<circle cx="613.9" cy="334.7" r="2.55"/>
<circle cx="599.9" cy="337.8" r="2.55"/>
<circle cx="614.7" cy="335.3" r="2.55"/>
<circle cx="618.0" cy="337.0" r="2.55"/>
<circle cx="623.8" cy="336.2" r="2.55"/>
<circle cx="630.3" cy="340.3" r="2.55"/>
<circle cx="600.7" cy="340.7" r="2.55"/>
<circle cx="604.8" cy="341.1" r="2.55"/>
<circle cx="613.1" cy="341.1" r="2.55"/>
<circle cx="622.1" cy="342.3" r="2.55"/>
<circle cx="619.7" cy="343.6" r="2.55"/>
<circle cx="598.3" cy="344.4" r="2.55"/>
<circle cx="614.7" cy="344.8" r="2.55"/>
<circle cx="628.7" cy="346.0" r="2.55"/>
<circle cx="633.6" cy="346.4" r="2.55"/>
<circle cx="586.8" cy="347.7" r="2.55"/>
<circle cx="592.5" cy="346.9" r="2.55"/>
<circle cx="599.9" cy="348.1" r="2.55"/>
<circle cx="605.7" cy="347.3" r="2.55"/>
<circle cx="615.5" cy="347.7" r="2.55"/>
<circle cx="630.3" cy="348.5" r="2.55"/>
<circle cx="589.2" cy="350.1" r="2.55"/>
<circle cx="603.2" cy="350.1" r="2.55"/>
<circle cx="608.1" cy="351.8" r="2.55"/>
<circle cx="613.9" cy="350.6" r="2.55"/>
<circle cx="618.0" cy="351.8" r="2.55"/>
<circle cx="590.0" cy="353.0" r="2.55"/>
<circle cx="597.4" cy="354.7" r="2.55"/>
<circle cx="604.0" cy="353.8" r="2.55"/>
<circle cx="612.3" cy="353.8" r="2.55"/>
<circle cx="619.7" cy="354.7" r="2.55"/>
<circle cx="591.7" cy="355.9" r="2.55"/>
<circle cx="600.7" cy="358.0" r="2.55"/>
<circle cx="614.7" cy="357.5" r="2.55"/>
<circle cx="628.3" cy="358.0" r="2.55"/>
<circle cx="605.7" cy="356.3" r="2.55"/>
<circle cx="610.6" cy="355.5" r="2.55"/>
<circle cx="594.6" cy="360.8" r="2.55"/>
<circle cx="585.9" cy="361.2" r="2.55"/>
<circle cx="601.6" cy="361.7" r="2.55"/>
<circle cx="613.9" cy="360.4" r="2.55"/>
<circle cx="618.0" cy="359.6" r="2.55"/>
<circle cx="624.6" cy="361.7" r="2.55"/>
<circle cx="584.3" cy="365.4" r="2.55"/>
<circle cx="590.0" cy="363.7" r="2.55"/>
<circle cx="590.9" cy="367.0" r="2.55"/>
<circle cx="600.7" cy="364.5" r="2.55"/>
<circle cx="604.8" cy="365.4" r="2.55"/>
<circle cx="609.0" cy="362.9" r="2.55"/>
<circle cx="612.3" cy="365.4" r="2.55"/>
<circle cx="617.2" cy="364.5" r="2.55"/>
<circle cx="620.5" cy="367.0" r="2.55"/>
<circle cx="629.5" cy="367.8" r="2.55"/>
<circle cx="585.9" cy="368.7" r="2.55"/>
<circle cx="604.0" cy="368.7" r="2.55"/>
<circle cx="609.8" cy="368.7" r="2.55"/>
<circle cx="615.5" cy="368.7" r="2.55"/>
<circle cx="625.4" cy="369.5" r="2.55"/>
<circle cx="628.7" cy="370.3" r="2.55"/>
<circle cx="585.1" cy="372.8" r="2.55"/>
<circle cx="590.9" cy="373.6" r="2.55"/>
<circle cx="599.9" cy="372.8" r="2.55"/>
<circle cx="605.7" cy="371.1" r="2.55"/>
<circle cx="611.4" cy="371.9" r="2.55"/>
<circle cx="618.0" cy="371.9" r="2.55"/>
<circle cx="623.8" cy="373.6" r="2.55"/>
<circle cx="594.2" cy="376.1" r="2.55"/>
<circle cx="602.4" cy="375.6" r="2.55"/>
<circle cx="608.1" cy="374.8" r="2.55"/>
<circle cx="613.9" cy="376.1" r="2.55"/>
<circle cx="620.5" cy="376.1" r="2.55"/>
<circle cx="632.0" cy="376.9" r="2.55"/>
<circle cx="585.9" cy="380.2" r="2.55"/>
<circle cx="590.0" cy="379.3" r="2.55"/>
<circle cx="597.4" cy="378.5" r="2.55"/>
<circle cx="602.4" cy="379.3" r="2.55"/>
<circle cx="615.5" cy="380.2" r="2.55"/>
<circle cx="622.1" cy="380.2" r="2.55"/>
<circle cx="627.9" cy="379.3" r="2.55"/>
<circle cx="587.6" cy="384.3" r="2.55"/>
<circle cx="595.0" cy="383.5" r="2.55"/>
<circle cx="607.3" cy="381.8" r="2.55"/>
<circle cx="618.8" cy="382.6" r="2.55"/>
<circle cx="626.2" cy="383.5" r="2.55"/>
<circle cx="631.2" cy="384.3" r="2.55"/>
<circle cx="585.1" cy="387.4" r="2.55"/>
<circle cx="587.6" cy="391.5" r="2.55"/>
<circle cx="594.2" cy="388.2" r="2.55"/>
<circle cx="597.4" cy="389.0" r="2.55"/>
<circle cx="607.3" cy="387.4" r="2.55"/>
<circle cx="616.4" cy="388.2" r="2.55"/>
<circle cx="620.5" cy="389.0" r="2.55"/>
<circle cx="625.4" cy="388.2" r="2.55"/>
<circle cx="630.3" cy="386.6" r="2.55"/>
<circle cx="632.8" cy="389.9" r="2.55"/>
<circle cx="593.3" cy="394.0" r="2.55"/>
<circle cx="598.3" cy="393.2" r="2.55"/>
<circle cx="603.2" cy="394.8" r="2.55"/>
<circle cx="608.1" cy="393.2" r="2.55"/>
<circle cx="617.2" cy="393.2" r="2.55"/>
<circle cx="622.1" cy="392.3" r="2.55"/>
<circle cx="627.1" cy="392.3" r="2.55"/>
<circle cx="633.6" cy="394.0" r="2.55"/>
<circle cx="617.2" cy="396.4" r="2.55"/>
<circle cx="620.5" cy="395.6" r="2.55"/>
<circle cx="632.0" cy="397.3" r="2.55"/>
<circle cx="600.3" cy="398.9" r="2.55"/>
<circle cx="606.5" cy="397.3" r="2.55"/>
<circle cx="584.7" cy="401.0" r="2.55"/>
<circle cx="596.2" cy="401.0" r="2.55"/>
<circle cx="605.7" cy="401.4" r="2.55"/>
<circle cx="624.6" cy="400.6" r="2.55"/>
<circle cx="633.6" cy="401.4" r="2.55"/>
<circle cx="590.9" cy="404.7" r="2.55"/>
<circle cx="596.6" cy="406.3" r="2.55"/>
<circle cx="614.7" cy="405.1" r="2.55"/>
<circle cx="622.1" cy="405.1" r="2.55"/>
<circle cx="588.4" cy="407.1" r="2.55"/>
<circle cx="604.0" cy="410.0" r="2.55"/>
<circle cx="608.1" cy="409.2" r="2.55"/>
<circle cx="612.3" cy="408.8" r="2.55"/>
<circle cx="618.8" cy="408.8" r="2.55"/>
<circle cx="624.6" cy="408.8" r="2.55"/>
<circle cx="586.8" cy="412.1" r="2.55"/>
<circle cx="601.6" cy="412.1" r="2.55"/>
<circle cx="614.7" cy="412.1" r="2.55"/>
<circle cx="623.8" cy="412.1" r="2.55"/>
<circle cx="591.7" cy="414.5" r="2.55"/>
<circle cx="599.9" cy="414.5" r="2.55"/>
<circle cx="631.2" cy="414.1" r="2.55"/>
<circle cx="586.8" cy="417.8" r="2.55"/>
<circle cx="593.3" cy="417.8" r="2.55"/>
<circle cx="599.9" cy="417.8" r="2.55"/>
<circle cx="607.3" cy="418.7" r="2.55"/>
<circle cx="611.4" cy="418.7" r="2.55"/>
<circle cx="626.2" cy="417.8" r="2.55"/>
<circle cx="629.5" cy="419.5" r="2.55"/>
<circle cx="594.2" cy="421.9" r="2.55"/>
<circle cx="601.6" cy="421.1" r="2.55"/>
<circle cx="609.0" cy="421.9" r="2.55"/>
<circle cx="620.5" cy="421.1" r="2.55"/>
<circle cx="628.7" cy="422.8" r="2.55"/>
<circle cx="585.1" cy="426.5" r="2.55"/>
<circle cx="589.2" cy="427.7" r="2.55"/>
<circle cx="595.8" cy="424.8" r="2.55"/>
<circle cx="597.4" cy="428.5" r="2.55"/>
<circle cx="605.7" cy="426.1" r="2.55"/>
<circle cx="612.3" cy="424.8" r="2.55"/>
<circle cx="614.7" cy="426.5" r="2.55"/>
<circle cx="604.0" cy="431.0" r="2.55"/>
<circle cx="620.5" cy="430.2" r="2.55"/>
<circle cx="618.0" cy="432.6" r="2.55"/>
<circle cx="623.8" cy="431.8" r="2.55"/>
<circle cx="627.1" cy="432.6" r="2.55"/>
<circle cx="632.8" cy="427.7" r="2.55"/>
<circle cx="632.0" cy="431.8" r="2.55"/>
<circle cx="599.9" cy="434.7" r="2.55"/>
<circle cx="611.4" cy="434.3" r="2.55"/>
<circle cx="619.7" cy="436.2" r="2.55"/>
<circle cx="626.2" cy="436.6" r="2.55"/>
<circle cx="589.9" cy="437.8" r="2.55"/>
<circle cx="595.0" cy="439.9" r="2.55"/>
<circle cx="604.8" cy="440.7" r="2.55"/>
<circle cx="607.3" cy="441.5" r="2.55"/>
<circle cx="622.1" cy="440.7" r="2.55"/>
<circle cx="626.2" cy="439.5" r="2.55"/>
<circle cx="628.7" cy="441.9" r="2.55"/>
<circle cx="621.3" cy="443.2" r="2.55"/>
<circle cx="602.8" cy="446.4" r="2.55"/>
<circle cx="606.5" cy="446.9" r="2.55"/>
<circle cx="611.8" cy="446.4" r="2.55"/>
<circle cx="623.0" cy="447.3" r="2.55"/>
<circle cx="589.2" cy="448.5" r="2.55"/>
<circle cx="625.8" cy="450.6" r="2.55"/>
<circle cx="595.8" cy="451.4" r="2.55"/>
<circle cx="586.3" cy="452.2" r="2.55"/>
<circle cx="584.3" cy="454.7" r="2.55"/>
<circle cx="589.2" cy="454.7" r="2.55"/>
<circle cx="596.6" cy="455.1" r="2.55"/>
<circle cx="607.3" cy="454.7" r="2.55"/>
<circle cx="590.9" cy="458.0" r="2.55"/>
<circle cx="594.6" cy="458.8" r="2.55"/>
<circle cx="609.0" cy="458.4" r="2.55"/>
<circle cx="631.2" cy="457.1" r="2.55"/>
<circle cx="631.6" cy="459.2" r="2.55"/>
<circle cx="601.6" cy="460.6" r="2.55"/>
<circle cx="627.1" cy="460.4" r="2.55"/>
<circle cx="623.4" cy="461.7" r="2.55"/>
<circle cx="631.2" cy="462.5" r="2.55"/>
<circle cx="586.8" cy="462.3" r="2.55"/>
<circle cx="593.7" cy="467.4" r="2.55"/>
<circle cx="595.8" cy="466.2" r="2.55"/>
<circle cx="599.9" cy="468.5" r="2.55"/>
<circle cx="594.6" cy="471.1" r="2.55"/>
<circle cx="612.7" cy="468.7" r="2.55"/>
<circle cx="609.8" cy="474.4" r="2.55"/>
<circle cx="613.9" cy="474.8" r="2.55"/>
<circle cx="596.6" cy="479.5" r="2.55"/>
<circle cx="623.4" cy="479.5" r="2.55"/>
<circle cx="604.4" cy="487.4" r="2.55"/>
<circle cx="619.2" cy="486.4" r="2.55"/>
<circle cx="627.1" cy="491.7" r="2.55"/>
<circle cx="590.2" cy="497.4" r="2.55"/>
<circle cx="587.7" cy="499.3" r="2.55"/>
<circle cx="585.3" cy="505.5" r="2.55"/>
<circle cx="590.7" cy="509.6" r="2.55"/>
<circle cx="611.6" cy="503.8" r="2.55"/>
<circle cx="608.8" cy="508.1" r="2.55"/>
<circle cx="608.5" cy="526.1" r="2.55"/>
<circle cx="611.0" cy="526.1" r="2.55"/>
<circle cx="602.5" cy="532.1" r="2.55"/>
<circle cx="609.0" cy="531.8" r="2.55"/>
<circle cx="609.8" cy="534.7" r="2.55"/>
<circle cx="600.7" cy="593.7" r="2.55"/>
<circle cx="609.1" cy="593.7" r="2.55"/>
<circle cx="625.4" cy="352.0" r="2.55"/>
<circle cx="601.6" cy="384.9" r="2.55"/>
<circle cx="589.0" cy="397.5" r="2.55"/>
<circle cx="596.0" cy="368.8" r="2.55"/>
<circle cx="612.1" cy="384.9" r="2.55"/>
<circle cx="612.1" cy="397.5" r="2.55"/>
<circle cx="630.3" cy="362.5" r="2.55"/>
<circle cx="602.3" cy="389.8" r="2.55"/>
<circle cx="630.3" cy="353.4" r="2.55"/>
<circle cx="612.1" cy="390.5" r="2.55"/>
<circle cx="624.0" cy="356.9" r="2.55"/>
<circle cx="627.5" cy="396.8" r="2.55"/>
<circle cx="628.2" cy="375.1" r="2.55"/>
<circle cx="610.7" cy="379.3" r="2.55"/>
<circle cx="590.4" cy="359.7" r="2.55"/>
<circle cx="605.8" cy="360.4" r="2.55"/>
<circle cx="593.9" cy="352.0" r="2.55"/>
<circle cx="596.7" cy="364.6" r="2.55"/>
<circle cx="589.7" cy="387.7" r="2.55"/>
<circle cx="596.0" cy="396.8" r="2.55"/>
<circle cx="622.6" cy="384.9" r="2.55"/>
<circle cx="613.5" cy="394.0" r="2.55"/>
</g>
<text x="114.85" y="240.8" text-anchor="middle" font-size="11.8">Mean = 0.14</text>
<text x="238.7" y="218.1" text-anchor="middle" font-size="11.8">Mean = 0.02</text>
<text x="362.3" y="258.4" text-anchor="middle" font-size="11.8">Mean = −0.02</text>
<text x="485.5" y="279.1" text-anchor="middle" font-size="11.8">Mean = −0.18</text>
<text x="610.9" y="221.4" text-anchor="middle" font-size="11.8">Mean = 0.2</text>
<text x="114.8" y="518.0" text-anchor="middle" font-size="11.8">n = 22</text>
<text x="238.6" y="543.0" text-anchor="middle" font-size="11.8">n = 235</text>
<text x="362.0" y="564.7" text-anchor="middle" font-size="11.8">n = 312</text>
<text x="485.8" y="524.9" text-anchor="middle" font-size="11.8">n = 42</text>
<text x="609.1" y="577.7" text-anchor="middle" font-size="11.8">n = 333</text></svg>
</body></html>
